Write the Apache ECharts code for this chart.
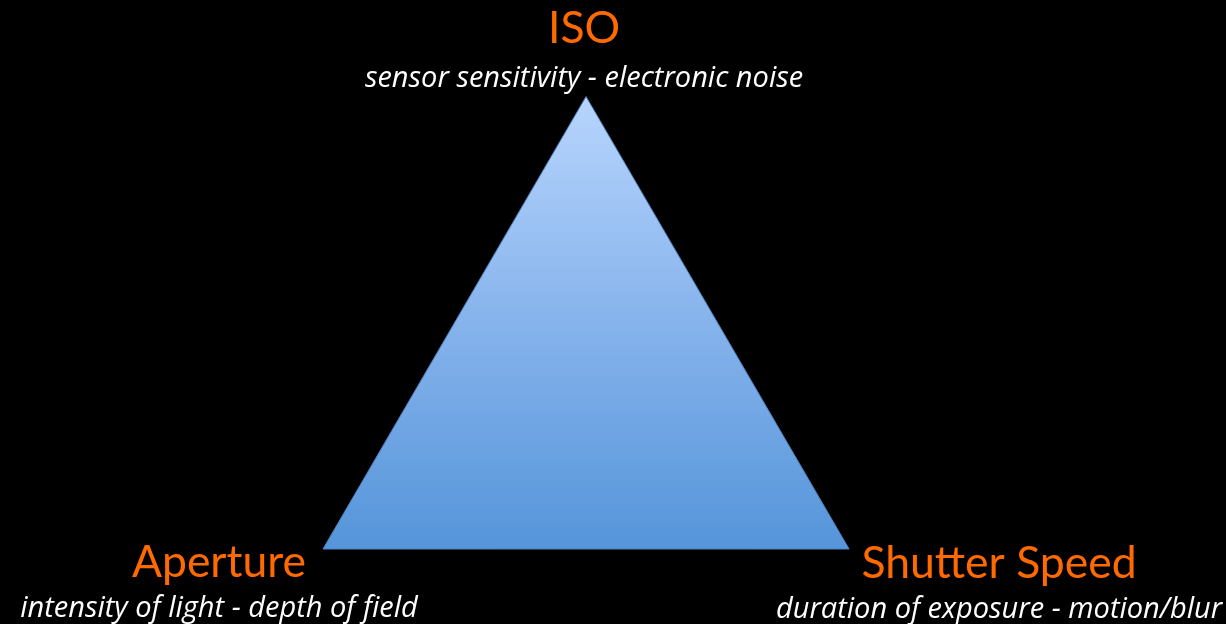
<!DOCTYPE html>
<html>
<head>
<meta charset="utf-8">
<style>
  html, body { margin: 0; padding: 0; background: #000; }
  #main { width: 1226px; height: 624px; }
</style>
<script src="https://cdn.jsdelivr.net/npm/echarts@6/dist/echarts.min.js"></script>
</head>
<body>
<div id="main"></div>
<script>
var myChart = echarts.init(document.getElementById('main'));

// exposure triangle corners (unit half-base)
var names = ['Aperture', 'ISO', 'Shutter Speed'];
var subtitles = ['intensity of light - depth of field', 'sensor sensitivity - electronic noise', 'duration of exposure - motion/blur'];
var cornerX = [-1, 0, 1];
var cornerY = [0, 1.72, 0];
// where each caption sits relative to its corner
var labelOffsets = [[-104, -13], [-2, 15], [150, -12]];
var subLineHeights = [48, 56, 48];

var corners = names.map(function (n, i) { return [cornerX[i], cornerY[i]]; });

var option = {
    backgroundColor: '#000',
    animation: false,
    grid: { left: 0, right: 0, top: 0, bottom: 0 },
    xAxis: { type: 'value', min: -2.228, max: 2.433, show: false },
    yAxis: { type: 'value', min: -0.285, max: 2.087, show: false },
    series: [
        {
            type: 'custom',
            renderItem: function (params, api) {
                var pts = corners.map(function (c) { return api.coord(c); });
                return {
                    type: 'polygon',
                    shape: { points: pts },
                    style: {
                        fill: new echarts.graphic.LinearGradient(0, 0, 0, 1, [
                            { offset: 0, color: '#b7d5fd' },
                            { offset: 0.5, color: '#86b3ec' },
                            { offset: 1, color: '#5595da' }
                        ]),
                        stroke: '#4f81bd',
                        lineWidth: 1
                    }
                };
            },
            data: [0]
        },
        {
            type: 'scatter',
            symbolSize: 0,
            itemStyle: { opacity: 1 },
            data: names.map(function (n, i) {
                var top = i === 1;
                return {
                    value: corners[i],
                    label: {
                        position: top ? 'top' : 'bottom',
                        offset: labelOffsets[i],
                        rich: {
                            t: { fontFamily: 'Lato', fontSize: 44.5, color: '#ff6a00', lineHeight: 44, align: 'center' },
                            s: { fontFamily: 'Open Sans', fontStyle: 'italic', fontSize: 29, color: '#ffffff', lineHeight: subLineHeights[i], align: 'center' }
                        }
                    }
                };
            }),
            label: {
                show: true,
                opacity: 1,
                align: 'center',
                formatter: function (p) {
                    return '{t|' + names[p.dataIndex] + '}\n{s|' + subtitles[p.dataIndex] + '}';
                }
            }
        }
    ]
};
myChart.setOption(option);
</script>
</body>
</html>
